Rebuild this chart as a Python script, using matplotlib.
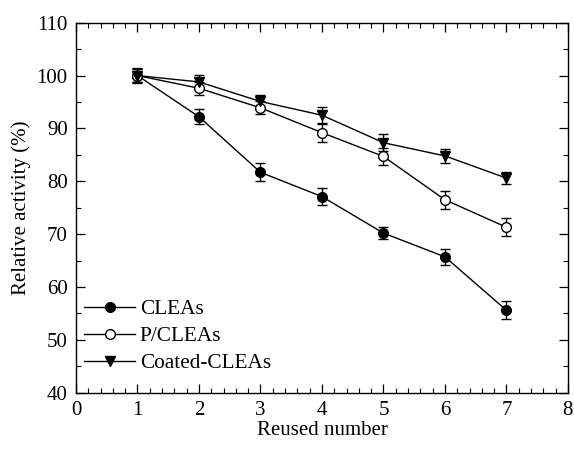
import matplotlib
matplotlib.use("Agg")
import matplotlib.pyplot as plt
from matplotlib.ticker import MultipleLocator

plt.rcParams['font.family'] = ['Liberation Serif', 'DejaVu Serif']
plt.rcParams['mathtext.fontset'] = 'stix'

reuse = [1, 2, 3, 4, 5, 6, 7]
cleas = [100.0, 92.2, 81.7, 77.1, 70.2, 65.7, 55.6]
cleas_err = [1.4, 1.4, 1.7, 1.6, 1.2, 1.5, 1.7]
pcleas = [100.0, 97.6, 93.9, 89.2, 84.7, 76.5, 71.3]
pcleas_err = [1.2, 1.2, 1.2, 1.8, 1.6, 1.7, 1.7]
coated = [100.0, 98.8, 95.1, 92.5, 87.3, 84.8, 80.6]
coated_err = [1.2, 1.3, 1.2, 1.6, 1.6, 1.3, 1.2]

fig = plt.figure(figsize=(5.74, 4.49), dpi=100)
ax = fig.add_axes([0.1324, 0.1254, 0.857, 0.824])

common = dict(color='black', lw=1.0, capsize=3.5, elinewidth=1.0, capthick=1.0, ms=7)
e1 = ax.errorbar(reuse, cleas, yerr=cleas_err, marker='o', mfc='black', mec='black', label='CLEAs', **common)
e2 = ax.errorbar(reuse, pcleas, yerr=pcleas_err, marker='o', mfc='white', mec='black', label='P/CLEAs', **common)
e3 = ax.errorbar(reuse, coated, yerr=coated_err, marker='v', mfc='black', mec='black', label='Coated-CLEAs', **common)

ax.set_xlim(0, 8)
ax.set_ylim(40, 110)
ax.xaxis.set_major_locator(MultipleLocator(1))
ax.xaxis.set_minor_locator(MultipleLocator(0.2))
ax.yaxis.set_major_locator(MultipleLocator(10))
ax.yaxis.set_minor_locator(MultipleLocator(5))
ax.tick_params(which='both', direction='in', top=True, right=True, labelsize=15)
ax.tick_params(which='major', length=6.5, width=0.9, pad=6)
ax.tick_params(which='minor', length=3.5, width=0.8)
for s in ax.spines.values():
    s.set_linewidth(1.0)

ax.set_xlabel('Reused number', fontsize=15, labelpad=1)
ax.set_ylabel('Relative activity (%)', fontsize=15, labelpad=4)

ax.legend([e1[0], e2[0], e3[0]], ['CLEAs', 'P/CLEAs', 'Coated-CLEAs'],
          loc='lower left', frameon=False, fontsize=15.3, handlelength=2.4,
          handletextpad=0.2, labelspacing=0.33, borderaxespad=0.0,
          bbox_to_anchor=(0.0, 0.03))

fig.savefig('out.png', dpi=100)
